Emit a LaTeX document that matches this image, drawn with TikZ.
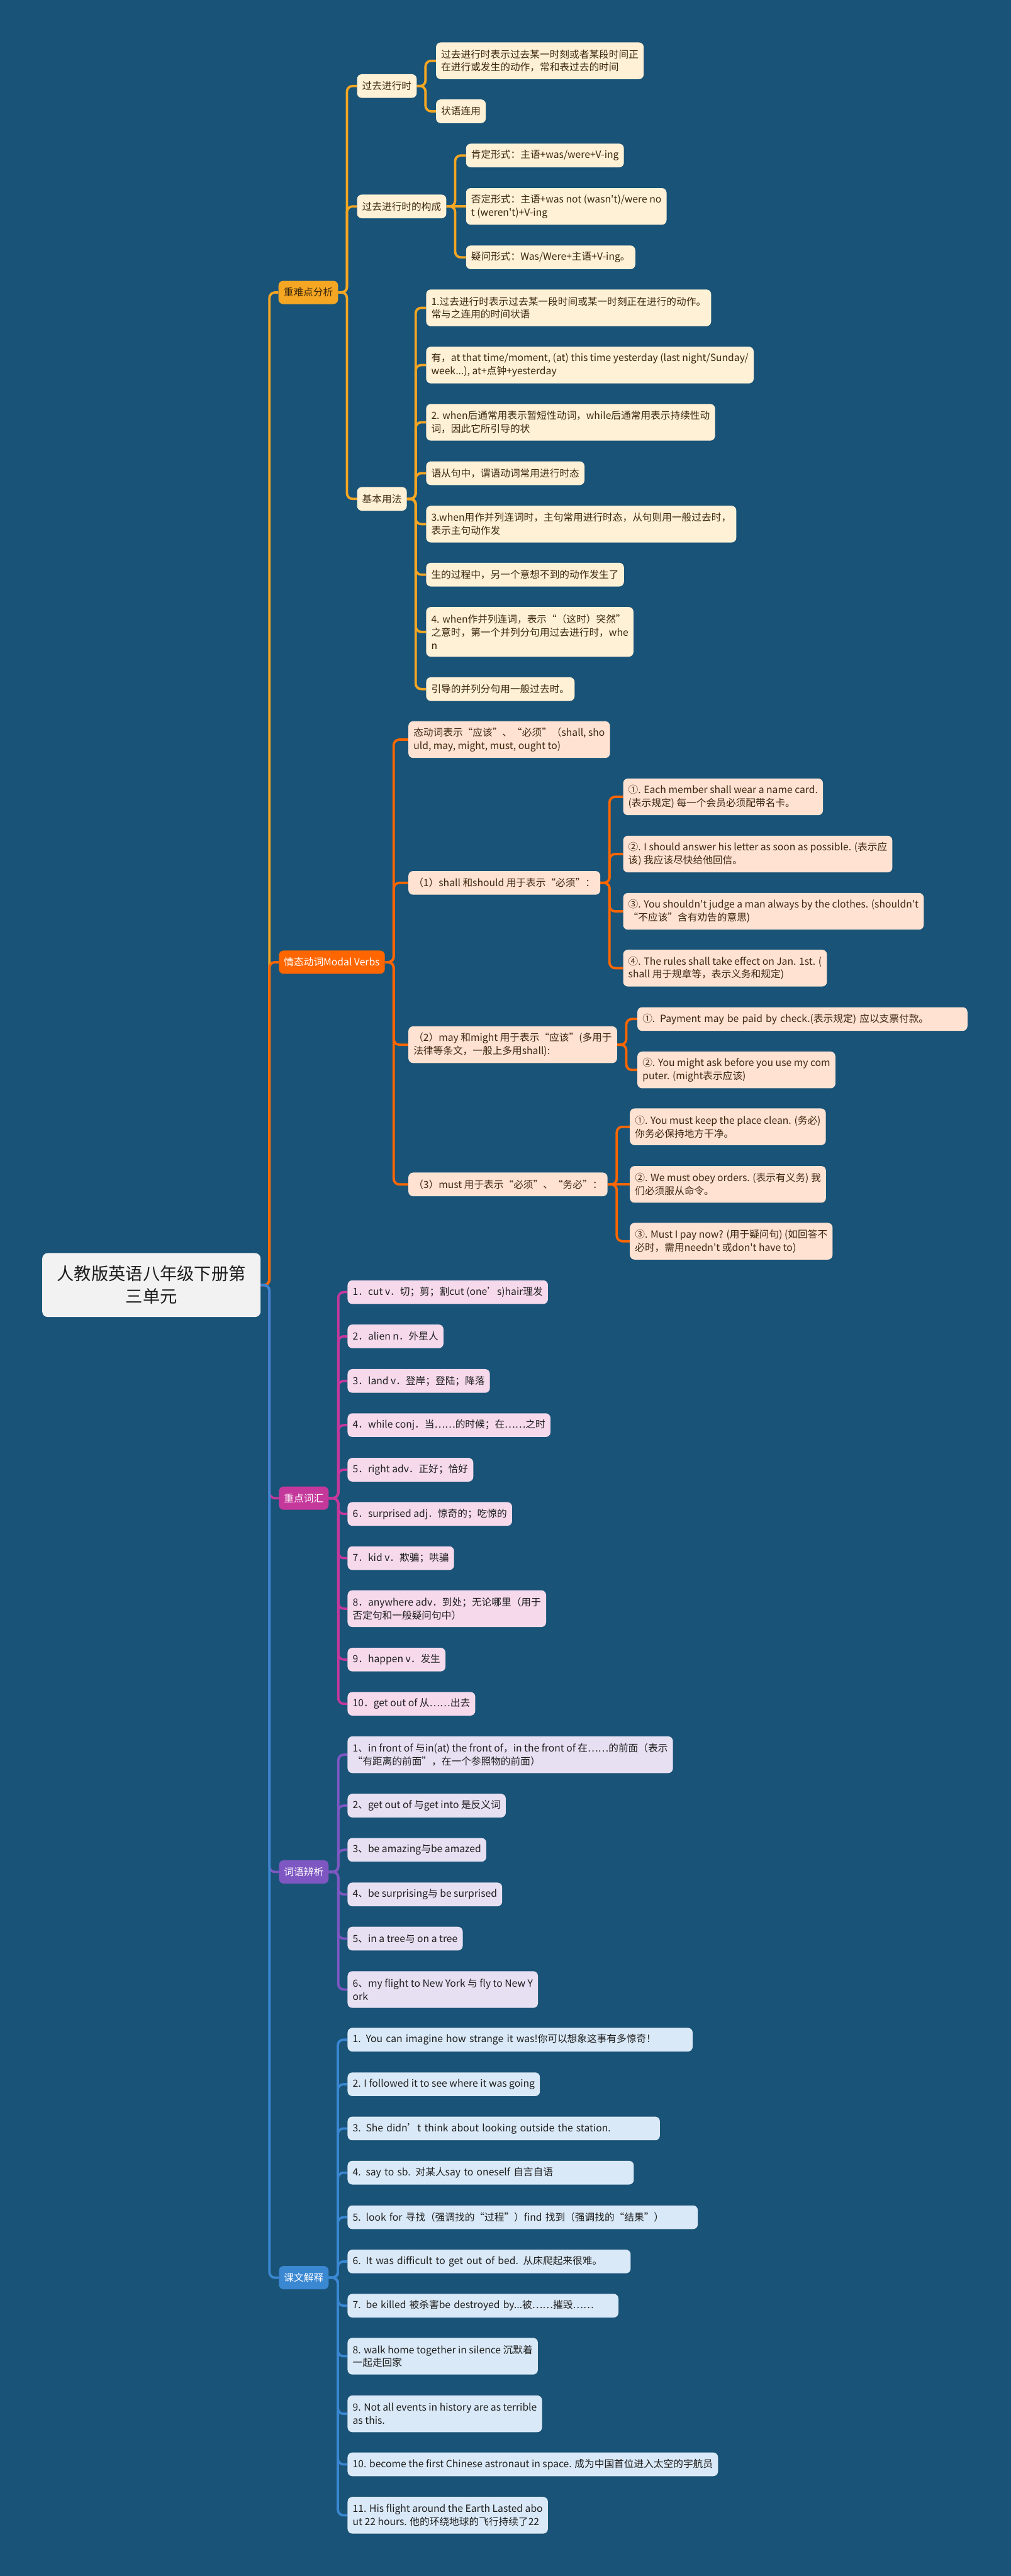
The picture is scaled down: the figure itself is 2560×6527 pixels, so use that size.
\documentclass[tikz,border=0pt]{standalone}
\usepackage{fontspec}
\newfontfamily\cjkfont{Noto Sans CJK SC}
\usepackage{tikz}
\usetikzlibrary{positioning,backgrounds}
\definecolor{bgblue}{RGB}{25,83,119}
\definecolor{gold}{RGB}{245,166,35}
\definecolor{orng}{RGB}{255,102,0}
\definecolor{magen}{RGB}{197,56,155}
\definecolor{purp}{RGB}{126,87,194}
\definecolor{sky}{RGB}{58,135,210}
\definecolor{cream}{RGB}{255,241,214}
\definecolor{peach}{RGB}{255,226,210}
\definecolor{pinkl}{RGB}{246,218,236}
\definecolor{lavl}{RGB}{230,224,242}
\definecolor{bluel}{RGB}{218,233,247}
\definecolor{brownt}{RGB}{60,40,15}
\definecolor{darkt}{RGB}{30,30,30}
\newcommand\mapfont{\cjkfont\fontsize{12.5}{16.5}\selectfont}

\begin{document}
\begin{tikzpicture}[
    x=0.5pt, y=-0.5pt,
    root/.style = {rectangle, rounded corners=7pt, fill=gray!10, text=darkt, minimum width=276.5pt, minimum height=81pt, align=center, font=\cjkfont\fontsize{21.75}{28.5}\selectfont},
    branch/.style = {rectangle, rounded corners=6pt, fill=#1, text=white, anchor=west, minimum height=29.5pt, inner xsep=6.5pt, inner ysep=0pt, font=\mapfont},
    leaf/.style = {rectangle, rounded corners=6pt, fill=#1, text=darkt, anchor=west, align=left, minimum height=30pt, inner xsep=6.5pt, inner ysep=0pt, font=\mapfont},
    warmleaf/.style = {leaf=#1, text=brownt},
    lines2/.style = {minimum height=46.5pt},
    lines3/.style = {minimum height=63pt},
    boxw/.style = {text width=#1},
    conn/.style = {draw=#1, line width=3pt, rounded corners=7pt}
]
    \useasboundingbox (0,0) rectangle (2560,6527);

    % 1. Root
    \node [root] (unit3) at (383.5,3256) {人教版英语八年级下册第\\三单元};

    % 2. Main branches
    \node [branch=gold, text=brownt] (key_points) at (705,741) {重难点分析};
    \node [branch=orng] (modal) at (706,2438) {情态动词Modal Verbs};
    \node [branch=magen] (vocab) at (706,3796) {重点词汇};
    \node [branch=purp] (words) at (706,4743) {词语辨析};
    \node [branch=sky] (lesson) at (706,5771) {课文解释};

    % 3. Key points
    \node [warmleaf=cream] (tense) at (904,218) {过去进行时};
    \node [warmleaf=cream, lines2] (tense_def) at (1104,154) {过去进行时表示过去某一时刻或者某段时间正\\在进行或发生的动作，常和表过去的时间};
    \node [warmleaf=cream] (tense_adv) at (1104,282) {状语连用};
    \node [warmleaf=cream] (form) at (904,523) {过去进行时的构成};
    \node [warmleaf=cream] (form_pos) at (1180,394) {肯定形式：主语+was/were+V-ing};
    \node [warmleaf=cream, lines2] (form_neg) at (1180,523) {否定形式：主语+was not (wasn't)/were no\\t (weren't)+V-ing};
    \node [warmleaf=cream] (form_qst) at (1180,652) {疑问形式：Was/Were+主语+V-ing。};
    \node [warmleaf=cream] (usage) at (904,1264) {基本用法};
    \node [warmleaf=cream, lines2] (usage_1) at (1079,780) {1.过去进行时表示过去某一段时间或某一时刻正在进行的动作。\\常与之连用的时间状语};
    \node [warmleaf=cream, lines2] (usage_2) at (1079,925) {有，at that time/moment, (at) this time yesterday (last night/Sunday/\\week...), at+点钟+yesterday};
    \node [warmleaf=cream, lines2] (usage_3) at (1079,1070) {2. when后通常用表示暂短性动词，while后通常用表示持续性动\\词，因此它所引导的状};
    \node [warmleaf=cream] (usage_4) at (1079,1199) {语从句中，谓语动词常用进行时态};
    \node [warmleaf=cream, lines2] (usage_5) at (1079,1328) {3.when用作并列连词时，主句常用进行时态，从句则用一般过去时，\\表示主句动作发};
    \node [warmleaf=cream] (usage_6) at (1079,1456) {生的过程中，另一个意想不到的动作发生了};
    \node [warmleaf=cream, lines3] (usage_7) at (1079,1601) {4. when作并列连词，表示“（这时）突然”\\之意时，第一个并列分句用过去进行时，whe\\n};
    \node [warmleaf=cream] (usage_8) at (1079,1746) {引导的并列分句用一般过去时。};

    % 4. Modal verbs
    \node [warmleaf=peach, lines2] (modal_def) at (1034,1874) {态动词表示“应该”、“必须”（shall, sho\\uld, may, might, must, ought to)};
    \node [warmleaf=peach] (shall) at (1034,2237) {（1）shall 和should 用于表示“必须”：};
    \node [warmleaf=peach, lines2] (shall_1) at (1578,2019) {①. Each member shall wear a name card.\\(表示规定) 每一个会员必须配带名卡。};
    \node [warmleaf=peach, lines2] (shall_2) at (1578,2164) {②. I should answer his letter as soon as possible. (表示应\\该) 我应该尽快给他回信。};
    \node [warmleaf=peach, lines2] (shall_3) at (1578,2309) {③. You shouldn't judge a man always by the clothes. (shouldn't\\“不应该”含有劝告的意思)};
    \node [warmleaf=peach, lines2] (shall_4) at (1578,2453) {④. The rules shall take effect on Jan. 1st. (\\shall 用于规章等，表示义务和规定)};
    \node [warmleaf=peach, lines2] (may) at (1034,2647) {（2）may 和might 用于表示“应该”(多用于\\法律等条文，一般上多用shall):};
    \node [warmleaf=peach, boxw=405pt] (may_1) at (1614,2582) {①. Payment may be paid by check.(表示规定) 应以支票付款。};
    \node [warmleaf=peach, lines2] (may_2) at (1614,2711) {②. You might ask before you use my com\\puter. (might表示应该)};
    \node [warmleaf=peach] (must) at (1034,3001) {（3）must 用于表示“必须”、“务必”：};
    \node [warmleaf=peach, lines2] (must_1) at (1595,2855) {①. You must keep the place clean. (务必)\\你务必保持地方干净。};
    \node [warmleaf=peach, lines2] (must_2) at (1595,3001) {②. We must obey orders. (表示有义务) 我\\们必须服从命令。};
    \node [warmleaf=peach, lines2] (must_3) at (1595,3145) {③. Must I pay now? (用于疑问句) (如回答不\\必时，需用needn't 或don't have to)};

    % 5. Vocabulary
    \node [leaf=pinkl] (vocab_1) at (880,3274) {1．cut v．切；剪；割cut (one’s)hair理发};
    \node [leaf=pinkl] (vocab_2) at (880,3386) {2．alien n．外星人};
    \node [leaf=pinkl] (vocab_3) at (880,3499) {3．land v．登岸；登陆；降落};
    \node [leaf=pinkl] (vocab_4) at (880,3611) {4．while conj．当……的时候；在……之时};
    \node [leaf=pinkl] (vocab_5) at (880,3724) {5．right adv．正好；恰好};
    \node [leaf=pinkl] (vocab_6) at (880,3836) {6．surprised adj．惊奇的；吃惊的};
    \node [leaf=pinkl] (vocab_7) at (880,3948) {7．kid v．欺骗；哄骗};
    \node [leaf=pinkl, lines2] (vocab_8) at (880,4076) {8．anywhere adv．到处；无论哪里（用于\\否定句和一般疑问句中）};
    \node [leaf=pinkl] (vocab_9) at (880,4205) {9．happen v．发生};
    \node [leaf=pinkl] (vocab_10) at (880,4317) {10．get out of 从……出去};

    % 6. Word comparison
    \node [leaf=lavl, lines2] (words_1) at (880,4446) {1、in front of 与in(at) the front of，in the front of 在……的前面（表示\\“有距离的前面”，在一个参照物的前面）};
    \node [leaf=lavl] (words_2) at (880,4575) {2、get out of 与get into 是反义词};
    \node [leaf=lavl] (words_3) at (880,4687) {3、be amazing与be amazed};
    \node [leaf=lavl] (words_4) at (880,4800) {4、be surprising与 be surprised};
    \node [leaf=lavl] (words_5) at (880,4912) {5、in a tree与 on a tree};
    \node [leaf=lavl, lines2] (words_6) at (880,5041) {6、my flight to New York 与 fly to New Y\\ork};

    % 7. Lesson notes
    \node [leaf=bluel, boxw=424pt] (lesson_1) at (880,5168) {1. You can imagine how strange it was!你可以想象这事有多惊奇！};
    \node [leaf=bluel] (lesson_2) at (880,5281) {2. I followed it to see where it was going};
    \node [leaf=bluel, boxw=382.5pt] (lesson_3) at (880,5393) {3. She didn’t think about looking outside the station.};
    \node [leaf=bluel, boxw=349.5pt] (lesson_4) at (880,5505) {4. say to sb. 对某人say to oneself 自言自语};
    \node [leaf=bluel, boxw=430.5pt] (lesson_5) at (880,5618) {5. look for 寻找（强调找的“过程”）find 找到（强调找的“结果”）};
    \node [leaf=bluel, boxw=345.5pt] (lesson_6) at (880,5730) {6. It was difficult to get out of bed. 从床爬起来很难。};
    \node [leaf=bluel, boxw=330pt] (lesson_7) at (880,5842) {7. be killed 被杀害be destroyed by...被……摧毁……};
    \node [leaf=bluel, lines2] (lesson_8) at (880,5970) {8. walk home together in silence 沉默着\\一起走回家};
    \node [leaf=bluel, lines2] (lesson_9) at (880,6116) {9. Not all events in history are as terrible\\as this.};
    \node [leaf=bluel] (lesson_10) at (880,6244) {10. become the first Chinese astronaut in space. 成为中国首位进入太空的宇航员};
    \node [leaf=bluel, lines2] (lesson_11) at (880,6373) {11. His flight around the Earth Lasted abo\\ut 22 hours. 他的环绕地球的飞行持续了22};

    % 8. Connections
    \begin{scope}[on background layer]
        \fill [bgblue] (0,0) rectangle (2560,6527);

        % Root to branches
        \draw [conn=gold] (unit3.east) -- ++(22,0) |- (key_points.west);
        \draw [conn=orng] (unit3.east) -- ++(22,0) |- (modal.west);
        \draw [conn=magen] (unit3.east) -- ++(22,0) |- (vocab.west);
        \draw [conn=purp] (unit3.east) -- ++(22,0) |- (words.west);
        \draw [conn=sky] (unit3.east) -- ++(22,0) |- (lesson.west);

        % Key points
        \draw [conn=gold] (key_points.east) -- ++(22,0) |- (tense.west);
        \draw [conn=gold] (key_points.east) -- ++(22,0) |- (form.west);
        \draw [conn=gold] (key_points.east) -- ++(22,0) |- (usage.west);
        \draw [conn=gold] (tense.east) -- ++(22,0) |- (tense_def.west);
        \draw [conn=gold] (tense.east) -- ++(22,0) |- (tense_adv.west);
        \draw [conn=gold] (form.east) -- ++(22,0) |- (form_pos.west);
        \draw [conn=gold] (form.east) -- (form_neg.west);
        \draw [conn=gold] (form.east) -- ++(22,0) |- (form_qst.west);
        \draw [conn=gold] (usage.east) -- ++(22,0) |- (usage_1.west);
        \draw [conn=gold] (usage.east) -- ++(22,0) |- (usage_2.west);
        \draw [conn=gold] (usage.east) -- ++(22,0) |- (usage_3.west);
        \draw [conn=gold] (usage.east) -- ++(22,0) |- (usage_4.west);
        \draw [conn=gold] (usage.east) -- ++(22,0) |- (usage_5.west);
        \draw [conn=gold] (usage.east) -- ++(22,0) |- (usage_6.west);
        \draw [conn=gold] (usage.east) -- ++(22,0) |- (usage_7.west);
        \draw [conn=gold] (usage.east) -- ++(22,0) |- (usage_8.west);

        % Modal verbs
        \draw [conn=orng] (modal.east) -- ++(22,0) |- (modal_def.west);
        \draw [conn=orng] (modal.east) -- ++(22,0) |- (shall.west);
        \draw [conn=orng] (modal.east) -- ++(22,0) |- (may.west);
        \draw [conn=orng] (modal.east) -- ++(22,0) |- (must.west);
        \draw [conn=orng] (shall.east) -- ++(23,0) |- (shall_1.west);
        \draw [conn=orng] (shall.east) -- ++(23,0) |- (shall_2.west);
        \draw [conn=orng] (shall.east) -- ++(23,0) |- (shall_3.west);
        \draw [conn=orng] (shall.east) -- ++(23,0) |- (shall_4.west);
        \draw [conn=orng] (may.east) -- ++(23,0) |- (may_1.west);
        \draw [conn=orng] (may.east) -- ++(23,0) |- (may_2.west);
        \draw [conn=orng] (must.east) -- ++(23,0) |- (must_1.west);
        \draw [conn=orng] (must.east) -- (must_2.west);
        \draw [conn=orng] (must.east) -- ++(23,0) |- (must_3.west);

        % Vocabulary
        \draw [conn=magen] (vocab.east) -- ++(24,0) |- (vocab_1.west);
        \draw [conn=magen] (vocab.east) -- ++(24,0) |- (vocab_2.west);
        \draw [conn=magen] (vocab.east) -- ++(24,0) |- (vocab_3.west);
        \draw [conn=magen] (vocab.east) -- ++(24,0) |- (vocab_4.west);
        \draw [conn=magen] (vocab.east) -- ++(24,0) |- (vocab_5.west);
        \draw [conn=magen] (vocab.east) -- ++(24,0) |- (vocab_6.west);
        \draw [conn=magen] (vocab.east) -- ++(24,0) |- (vocab_7.west);
        \draw [conn=magen] (vocab.east) -- ++(24,0) |- (vocab_8.west);
        \draw [conn=magen] (vocab.east) -- ++(24,0) |- (vocab_9.west);
        \draw [conn=magen] (vocab.east) -- ++(24,0) |- (vocab_10.west);

        % Word comparison
        \draw [conn=purp] (words.east) -- ++(24,0) |- (words_1.west);
        \draw [conn=purp] (words.east) -- ++(24,0) |- (words_2.west);
        \draw [conn=purp] (words.east) -- ++(24,0) |- (words_3.west);
        \draw [conn=purp] (words.east) -- ++(24,0) |- (words_4.west);
        \draw [conn=purp] (words.east) -- ++(24,0) |- (words_5.west);
        \draw [conn=purp] (words.east) -- ++(24,0) |- (words_6.west);

        % Lesson notes
        \draw [conn=sky] (lesson.east) -- ++(23,0) |- (lesson_1.west);
        \draw [conn=sky] (lesson.east) -- ++(23,0) |- (lesson_2.west);
        \draw [conn=sky] (lesson.east) -- ++(23,0) |- (lesson_3.west);
        \draw [conn=sky] (lesson.east) -- ++(23,0) |- (lesson_4.west);
        \draw [conn=sky] (lesson.east) -- ++(23,0) |- (lesson_5.west);
        \draw [conn=sky] (lesson.east) -- ++(23,0) |- (lesson_6.west);
        \draw [conn=sky] (lesson.east) -- ++(23,0) |- (lesson_7.west);
        \draw [conn=sky] (lesson.east) -- ++(23,0) |- (lesson_8.west);
        \draw [conn=sky] (lesson.east) -- ++(23,0) |- (lesson_9.west);
        \draw [conn=sky] (lesson.east) -- ++(23,0) |- (lesson_10.west);
        \draw [conn=sky] (lesson.east) -- ++(23,0) |- (lesson_11.west);
    \end{scope}

\end{tikzpicture}
\end{document}
